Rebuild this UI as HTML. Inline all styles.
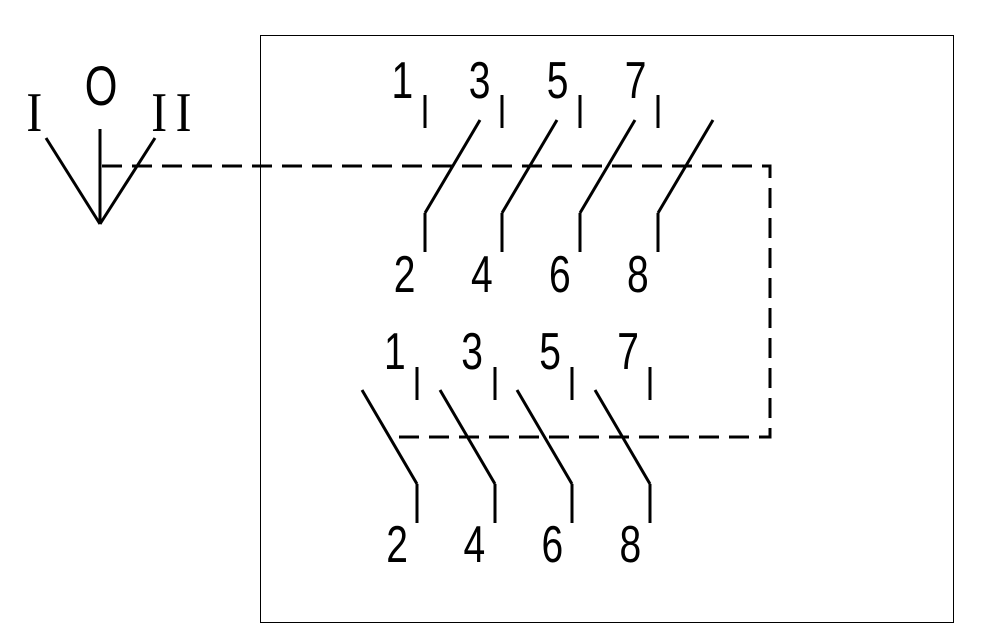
<!DOCTYPE html>
<html><head><meta charset="utf-8"><style>body{margin:0;background:#fff}svg{display:block}text{font-family:"Liberation Sans",sans-serif;font-size:52px;fill:#000}text.s{font-family:"Liberation Serif",serif;font-size:56px;font-weight:300}</style></head><body>
<svg width="983" height="639" viewBox="0 0 983 639">
<rect x="260.5" y="35.5" width="693" height="587" fill="none" stroke="#000" stroke-width="1"/>
<g stroke="#000" stroke-width="3" fill="none" stroke-linecap="butt">
<line x1="100" y1="129" x2="100" y2="224"/>
<line x1="46" y1="138" x2="100" y2="224"/>
<line x1="155" y1="138" x2="100" y2="224"/>
<path d="M102 166 H770 V437 H390" stroke-dasharray="20 10"/>
<g id="t">
<line x1="425" y1="95" x2="425" y2="128"/>
<line x1="425" y1="252" x2="425" y2="213"/>
<line x1="425" y1="213" x2="480" y2="120"/>
</g>
<use href="#t" x="77"/><use href="#t" x="155"/><use href="#t" x="233"/>
<g id="b">
<line x1="417" y1="367" x2="417" y2="400"/>
<line x1="417" y1="523" x2="417" y2="484"/>
<line x1="417" y1="484" x2="362" y2="390"/>
</g>
<use href="#b" x="78"/><use href="#b" x="155"/><use href="#b" x="233"/>
</g>
<g transform="scale(0.85,1)">
<text class="s" x="31" y="131">I</text>
<text class="s" x="178" y="131" letter-spacing="10">II</text>
</g>
<g transform="scale(0.75,1)">
<text x="113" y="105" style="font-size:56px">O</text>
<text x="522" y="98">1</text><text x="625" y="98">3</text><text x="729" y="98">5</text><text x="833" y="98">7</text>
<text x="525" y="292">2</text><text x="628" y="292">4</text><text x="732" y="292">6</text><text x="836" y="292">8</text>
<text x="512" y="369">1</text><text x="615" y="369">3</text><text x="719" y="369">5</text><text x="823" y="369">7</text>
<text x="515" y="562">2</text><text x="618" y="562">4</text><text x="722" y="562">6</text><text x="826" y="562">8</text>
</g>
</svg>
</body></html>
